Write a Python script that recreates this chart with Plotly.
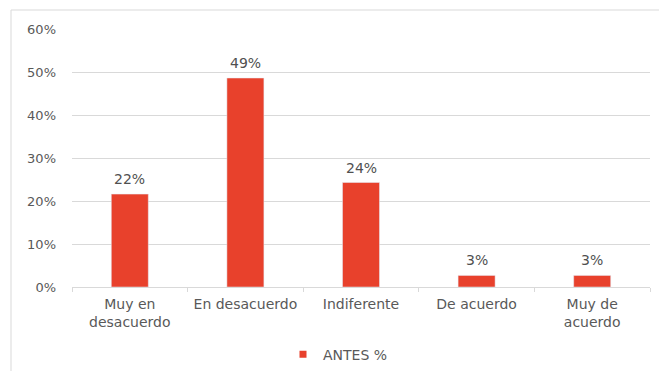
import plotly.graph_objects as go

categories = ["Muy en<br>desacuerdo", "En desacuerdo", "Indiferente", "De acuerdo", "Muy de<br>acuerdo"]
values = [21.6, 48.6, 24.3, 2.7, 2.7]
series_name = "ANTES %"
y_ticks = [0, 10, 20, 30, 40, 50, 60]
bar_color = "#E8412C"

labels = [f"{round(v)}%" for v in values]

fig = go.Figure()
fig.add_trace(go.Bar(
    x=categories, y=values, name=series_name,
    marker=dict(color=bar_color),
    width=0.32,
    showlegend=False,
    legendgroup="a",
))
# legend entry for the series (small square key like the original)
fig.add_trace(go.Scatter(
    x=[categories[0]], y=[None], mode="markers", name=series_name,
    marker=dict(symbol="square", size=7, color=bar_color),
    showlegend=True, legendgroup="a", hoverinfo="skip",
))

# data labels above bars, placed with the axes' own scales
for c, v, t in zip(categories, values, labels):
    fig.add_annotation(x=c, y=v, xref="x", yref="y", text=t, showarrow=False,
                       yanchor="bottom", yshift=5,
                       font=dict(family="DejaVu Sans", size=14, color="#505050"))

fig.update_layout(
    width=659, height=371,
    margin=dict(l=72, r=9, t=29, b=84, autoexpand=False),
    paper_bgcolor="white", plot_bgcolor="white",
    font=dict(family="DejaVu Sans", size=13, color="#595959"),
    showlegend=True,
    legend=dict(orientation="h", x=(303 - 20 - 72) / 578, xanchor="left", y=-0.262, yanchor="middle",
                font=dict(size=14, color="#595959"), itemwidth=30),
    xaxis=dict(showgrid=False, showline=True, linecolor="#d9d9d9", linewidth=1,
               ticks="outside", tickson="boundaries", ticklen=4, tickcolor="#d9d9d9",
               automargin=False, ticklabelstandoff=4,
               tickfont=dict(size=14, color="#595959")),
    yaxis=dict(range=[0, 60], tickvals=y_ticks, ticktext=[f"{t}%" for t in y_ticks],
               showgrid=True, gridcolor="#d9d9d9", gridwidth=1, zeroline=False,
               showline=False, ticks="", ticklabelstandoff=15, automargin=False,
               tickfont=dict(size=13, color="#595959")),
    shapes=[dict(type="rect", xref="paper", yref="paper",
                 x0=(11 - 72) / 578, x1=1.2, y0=-0.6, y1=(287 - 10) / 258,
                 line=dict(color="#d9d9d9", width=1), fillcolor="rgba(0,0,0,0)",
                 layer="below")],
)

fig.write_html("out.html")
